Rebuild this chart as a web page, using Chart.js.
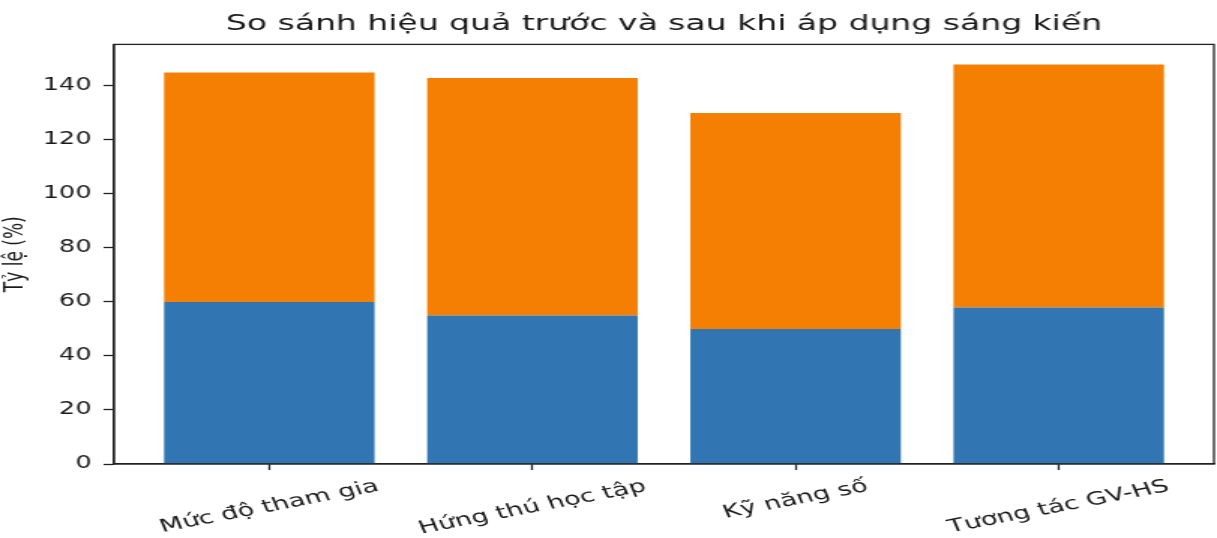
<!DOCTYPE html>
<html>
<head>
<meta charset="utf-8">
<script src="https://cdn.jsdelivr.net/npm/chart.js@4"></script>
<style>
  html, body { margin: 0; padding: 0; background: #fff; }
</style>
</head>
<body>
<canvas id="chart" width="811" height="538" style="display:block;width:1217px;height:538px"></canvas>
<script>
const categories = ['Mức độ tham gia', 'Hứng thú học tập', 'Kỹ năng số', 'Tương tác GV-HS'];
const truoc = [60, 55, 50, 58];
const sau = [85, 88, 80, 90];
const yStep = 20;
const yMax = 155.4;
const chartTitle = 'So sánh hiệu quả trước và sau khi áp dụng sáng kiến';
const yTitle = 'Tỷ lệ (%)';

const textColor = '#1a1a1a';
const lineColor = '#222';

Chart.defaults.font.family = "'DejaVu Sans', sans-serif";
Chart.defaults.color = textColor;

// matplotlib draws all four spines on top of the bars
const frame = {
    id: 'frame',
    afterDatasetsDraw(chart) {
        const { ctx, chartArea: a } = chart;
        ctx.save();
        ctx.strokeStyle = lineColor;
        ctx.lineWidth = 1.3;
        ctx.strokeRect(a.left, a.top, a.right - a.left, a.bottom - a.top);
        ctx.restore();
    }
};

// rotated category labels, centred under each tick like matplotlib
const xLabels = {
    id: 'xLabels',
    afterDraw(chart) {
        const { ctx } = chart;
        const xs = chart.scales.x;
        const angle = 16 * Math.PI / 180;
        const h = 18 * 1.16;
        const top = chart.chartArea.bottom + 6 + 6;
        ctx.save();
        ctx.font = "18px 'DejaVu Sans'";
        ctx.fillStyle = textColor;
        ctx.textAlign = 'center';
        ctx.textBaseline = 'middle';
        categories.forEach((label, i) => {
            const w = ctx.measureText(label).width;
            const boxH = w * Math.sin(angle) + h * Math.cos(angle);
            const x = xs.getPixelForValue(i);
            ctx.save();
            ctx.translate(x, top + boxH / 2);
            ctx.rotate(-angle);
            ctx.fillText(label, 0, 0);
            ctx.restore();
        });
        ctx.restore();
    }
};

new Chart(document.getElementById('chart'), {
    type: 'bar',
    data: {
        datasets: [
            {
                label: 'Trước',
                data: truoc.map((v, i) => ({ x: i, y: v })),
                backgroundColor: '#3176b2',
                borderWidth: 0
            },
            {
                label: 'Sau',
                data: sau.map((v, i) => ({ x: i, y: v })),
                backgroundColor: '#f57f02',
                borderWidth: 0
            }
        ]
    },
    options: {
        responsive: false,
        devicePixelRatio: 1,
        animation: false,
        categoryPercentage: 0.8,
        barPercentage: 1,
        layout: { padding: { left: 0, right: 2, top: 0, bottom: 68 } },
        plugins: {
            legend: { display: false },
            tooltip: { enabled: false },
            title: {
                display: true,
                text: chartTitle,
                fullSize: false,
                color: textColor,
                font: { size: 22, weight: 'normal' },
                padding: { top: 11, bottom: 7 }
            }
        },
        scales: {
            x: {
                type: 'linear',
                min: -0.59,
                max: 3.59,
                offset: false,
                stacked: true,
                grid: {
                    offset: false,
                    drawOnChartArea: false,
                    drawTicks: true,
                    tickLength: 6,
                    tickWidth: 1.3,
                    tickColor: lineColor
                },
                border: { color: lineColor, width: 1.3 },
                ticks: { display: false, stepSize: 1, includeBounds: false, autoSkip: false }
            },
            y: {
                min: 0,
                max: yMax,
                stacked: true,
                grid: {
                    drawOnChartArea: false,
                    drawTicks: true,
                    tickLength: 7,
                    tickWidth: 1.3,
                    tickColor: lineColor
                },
                border: { color: lineColor, width: 1.3 },
                ticks: {
                    stepSize: yStep,
                    includeBounds: false,
                    padding: 8,
                    color: textColor,
                    font: { size: 17 }
                },
                title: {
                    display: true,
                    text: yTitle,
                    color: textColor,
                    font: { size: 17 },
                    padding: 0
                },
                afterFit(scale) {
                    scale.width = 76;
                }
            }
        }
    },
    plugins: [frame, xLabels]
});
</script>
</body>
</html>
